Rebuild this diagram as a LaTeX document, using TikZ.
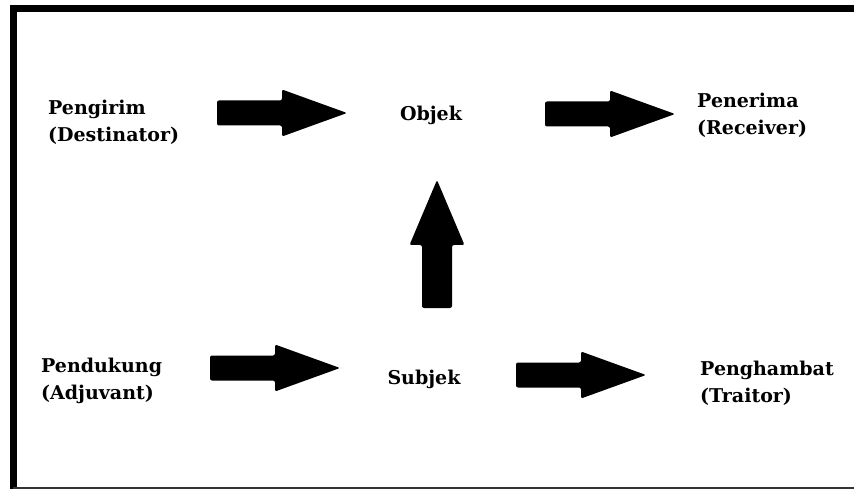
\documentclass[tikz,border=0pt]{standalone}
\usepackage{fontspec}
\setmainfont{DejaVu Serif}
\begin{document}
\begin{tikzpicture}[x=1pt,y=-1pt,
  lbl/.style={inner sep=0pt, align=left, anchor=north west,
    font=\bfseries\fontsize{19}{27}\selectfont, text=black},
  lblc/.style={inner sep=0pt, anchor=base,
    font=\bfseries\fontsize{19}{27}\selectfont, text=black},
  blockarrow/.pic={\fill[black, rounded corners=2pt]
     (0,-12.5) -- (65,-12.5) -- (65,-23.5) -- (130,0) -- (65,23.5)
     -- (65,12.5) -- (0,12.5) -- cycle;},
  uparrow/.pic={\fill[black, rounded corners=2pt]
     (0,-15) -- (63,-15) -- (63,-27.5) -- (128,0) -- (63,27.5)
     -- (63,15) -- (0,15) -- cycle;}
]
\useasboundingbox (0,0) rectangle (854,489);
\fill[white] (0,0) rectangle (854,489);
% frame
\draw[line width=7pt] (13,489) -- (13,8.5) -- (854,8.5);
\draw[line width=2pt, black!80] (13,488) -- (854,488);
% labels
\node[lbl] (pengirim) at (48,100) {Pengirim\\(Destinator)};
\node[lblc] (objek) at (431,121) {Objek};
\node[lbl] (penerima) at (697,93) {Penerima\\(Receiver)};
\node[lbl] (pendukung) at (41,358) {Pendukung\\(Adjuvant)};
\node[lblc] (subjek) at (424,384) {Subjek};
\node[lbl] (penghambat) at (700,361) {Penghambat\\(Traitor)};
% block arrows
\pic at (217,113) {blockarrow};
\pic at (545,114) {blockarrow};
\pic at (210,368) {blockarrow};
\pic at (516,375) {blockarrow};
\pic[rotate=90] at (437,308) {uparrow};
\end{tikzpicture}
\end{document}
